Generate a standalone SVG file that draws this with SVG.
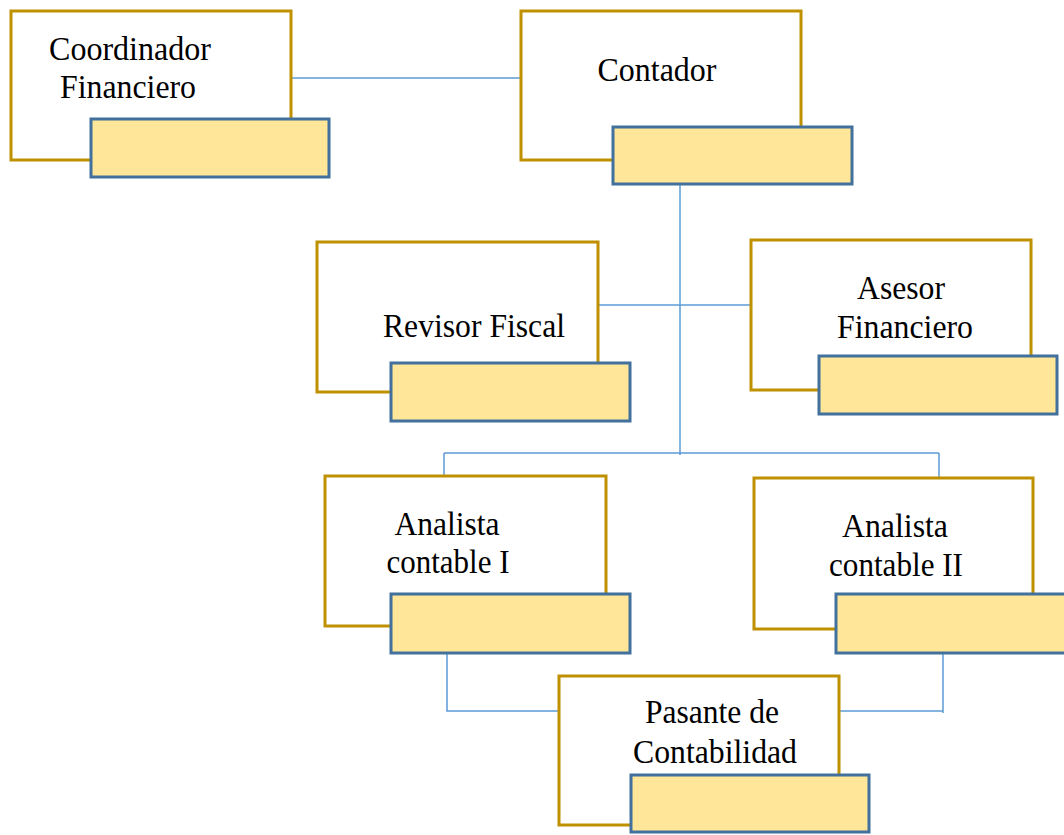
<svg xmlns="http://www.w3.org/2000/svg" width="1064" height="835" viewBox="0 0 1064 835">
<style>
.box{fill:#FFFFFF;stroke:#BF9000;stroke-width:3}
.tag{fill:#FFE699;stroke:#41719C;stroke-width:3}
.lbl{font-family:"Liberation Serif","Times New Roman",serif;font-size:33px;fill:#000;text-anchor:middle}
.con{fill:none;stroke:#5B9BD5;stroke-width:1.5}
</style>
<rect width="1064" height="835" fill="#FFFFFF"/>
<g id="connectors">
<line class="con" x1="291" y1="78" x2="521" y2="78"/>
<line class="con" x1="680" y1="184" x2="680" y2="455"/>
<line class="con" x1="598" y1="305" x2="751" y2="305"/>
<line class="con" x1="444" y1="453" x2="939" y2="453"/>
<line class="con" x1="444" y1="453" x2="444" y2="476"/>
<line class="con" x1="939" y1="453" x2="939" y2="478"/>
<polyline class="con" points="447,653 447,711 559,711"/>
<polyline class="con" points="943,653 943,713"/>
<line class="con" x1="839" y1="711" x2="943" y2="711"/>
</g>
<g id="coordinador">
<rect class="box" x="11" y="11" width="280" height="149"/>
<text class="lbl" x="130" y="60" textLength="162" lengthAdjust="spacingAndGlyphs">Coordinador</text>
<text class="lbl" x="128" y="98" textLength="136" lengthAdjust="spacingAndGlyphs">Financiero</text>
<rect class="tag" x="91" y="119" width="238" height="58"/>
</g>
<g id="contador">
<rect class="box" x="521" y="11" width="280" height="149"/>
<text class="lbl" x="657" y="81" textLength="119" lengthAdjust="spacingAndGlyphs">Contador</text>
<rect class="tag" x="613" y="127" width="239" height="57"/>
</g>
<g id="revisor">
<rect class="box" x="317" y="242" width="281" height="150"/>
<text class="lbl" x="474" y="337" textLength="182" lengthAdjust="spacingAndGlyphs">Revisor Fiscal</text>
<rect class="tag" x="391" y="363" width="239" height="58"/>
</g>
<g id="asesor">
<rect class="box" x="751" y="240" width="280" height="150"/>
<text class="lbl" x="901" y="299" textLength="88" lengthAdjust="spacingAndGlyphs">Asesor</text>
<text class="lbl" x="905" y="338" textLength="136" lengthAdjust="spacingAndGlyphs">Financiero</text>
<rect class="tag" x="819" y="356" width="238" height="58"/>
</g>
<g id="analista1">
<rect class="box" x="325" y="476" width="281" height="150"/>
<text class="lbl" x="447" y="535" textLength="105" lengthAdjust="spacingAndGlyphs">Analista</text>
<text class="lbl" x="448" y="573" textLength="123" lengthAdjust="spacingAndGlyphs">contable I</text>
<rect class="tag" x="391" y="594" width="239" height="59"/>
</g>
<g id="analista2">
<rect class="box" x="754" y="478" width="279" height="151"/>
<text class="lbl" x="895" y="537" textLength="106" lengthAdjust="spacingAndGlyphs">Analista</text>
<text class="lbl" x="896" y="576" textLength="134" lengthAdjust="spacingAndGlyphs">contable II</text>
<rect class="tag" x="836" y="594" width="240" height="59"/>
</g>
<g id="pasante">
<rect class="box" x="559" y="676" width="280" height="149"/>
<text class="lbl" x="712" y="723" textLength="134" lengthAdjust="spacingAndGlyphs">Pasante de</text>
<text class="lbl" x="715" y="763" textLength="164" lengthAdjust="spacingAndGlyphs">Contabilidad</text>
<rect class="tag" x="631" y="775" width="238" height="57"/>
</g>
</svg>
